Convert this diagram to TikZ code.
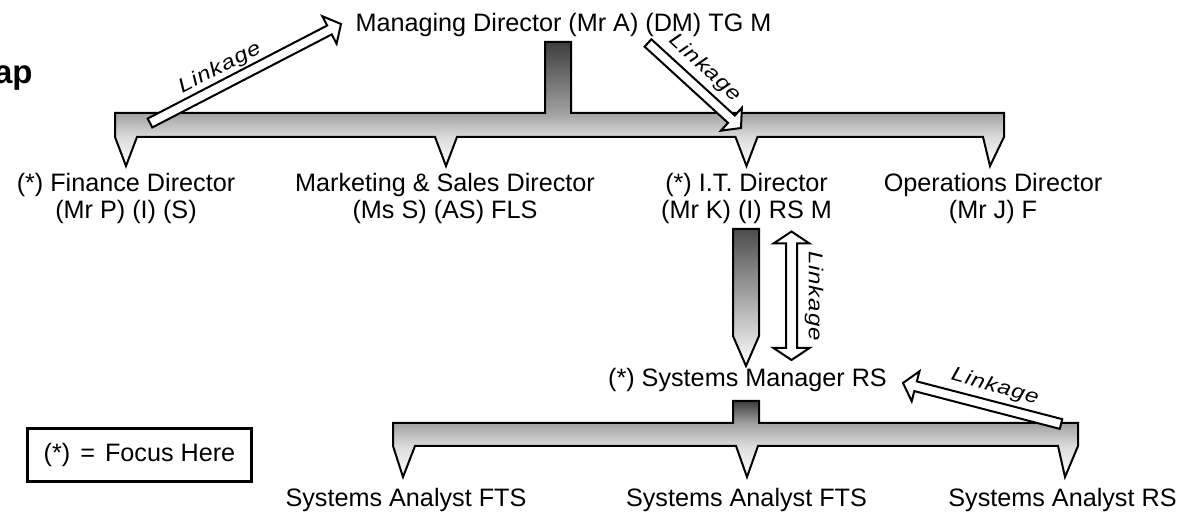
\documentclass[tikz,border=0pt]{standalone}
\usepackage{fontspec}
\setmainfont{Liberation Sans}
\newfontfamily\linkfont[LetterSpace=4]{Liberation Sans}
\usetikzlibrary{calc}

% vertical fills for the two reporting combs (dark stem -> grey bar -> white tips)
\pgfdeclareverticalshading{topcomb}{100bp}{color(0bp)=(white); color(25bp)=(white);
  color(36.7bp)=(black!14); color(46.4bp)=(black!37); color(75bp)=(black!76); color(100bp)=(black!76)}
\pgfdeclareverticalshading{lowcomb}{100bp}{color(0bp)=(white); color(25bp)=(white);
  color(45.4bp)=(black!14); color(60.5bp)=(black!37); color(75bp)=(black!76); color(100bp)=(black!76)}

\tikzset{
  lbl/.style={anchor=base, inner sep=0pt, font=\fontsize{12.6}{13}\selectfont},
  linklbl/.style={inner sep=0pt, font=\linkfont\itshape\fontsize{10}{11}\selectfont},
  comb/.style={draw=black, line width=1pt, line join=miter},
  linkbody/.style={draw=black, fill=white, line width=1pt, line join=miter},
}

% single-headed block arrow from #1 (tail) to #2 (tip)
\newcommand\linkarrow[2]{%
  \coordinate (lkhead) at ($(#2)!6.5pt!(#1)$);
  \draw[linkbody]
    ($(#1)!2.5pt!90:(#2)$) -- ($(lkhead)!2.5pt!90:(#2)$) -- ($(lkhead)!7.75pt!90:(#2)$) -- (#2)
    -- ($(lkhead)!7.75pt!-90:(#2)$) -- ($(lkhead)!2.5pt!-90:(#2)$) -- ($(#1)!2.5pt!-90:(#2)$) -- cycle;}

% double-headed block arrow between #1 and #2
\newcommand\linkarrowboth[2]{%
  \coordinate (lkheadA) at ($(#1)!6pt!(#2)$);
  \coordinate (lkheadB) at ($(#2)!6pt!(#1)$);
  \draw[linkbody] (#1) -- ($(lkheadA)!9pt!90:(#2)$) -- ($(lkheadA)!2.75pt!90:(#2)$)
    -- ($(lkheadB)!2.75pt!-90:(#1)$) -- ($(lkheadB)!9pt!-90:(#1)$) -- (#2)
    -- ($(lkheadB)!9pt!90:(#1)$) -- ($(lkheadB)!2.75pt!90:(#1)$)
    -- ($(lkheadA)!2.75pt!-90:(#2)$) -- ($(lkheadA)!9pt!-90:(#2)$) -- cycle;}

\begin{document}
\begin{tikzpicture}[x=0.5pt, y=-0.5pt]
\useasboundingbox (0,0) rectangle (1184,512);

% heading fragment
\node[anchor=base east, inner sep=0pt, font=\bfseries\fontsize{16.5}{18}\selectfont] (ttl) at (33,84) {ap};

% people
\node[lbl] (md) at (563.5,32) {Managing Director (Mr A) (DM) TG M};
\node[lbl] (fd) at (126,192) {\begin{tabular}[t]{@{}c@{}}(*) Finance Director\\(Mr P) (I) (S)\end{tabular}};
\node[lbl] (msd) at (445,192) {\begin{tabular}[t]{@{}c@{}}Marketing \& Sales Director\\(Ms S) (AS) FLS\end{tabular}};
\node[lbl] (itd) at (746.5,192) {\begin{tabular}[t]{@{}c@{}}(*) I.T. Director\\(Mr K) (I) RS M\end{tabular}};
\node[lbl] (od) at (993,192) {\begin{tabular}[t]{@{}c@{}}Operations Director\\(Mr J) F\end{tabular}};
\node[lbl] (sm) at (747.5,387) {(*) Systems Manager RS};
\node[lbl] (sa1) at (406,507) {Systems Analyst FTS};
\node[lbl] (sa2) at (746.5,507) {Systems Analyst FTS};
\node[lbl] (sa3) at (1062.5,507) {Systems Analyst RS};

% key
\node[draw, line width=1.5pt, minimum width=112pt, minimum height=26.5pt, inner sep=0pt,
      font=\fontsize{12.6}{13}\selectfont] (key) at (139.5,455)
      {(*)\hspace{5pt}=\hspace{5pt}Focus Here};

% board comb: managing director -> four directors
\path[comb, shading=topcomb]
  (545,42) -- (571,42) -- (571,113) -- (1004,113) -- (1004,137) -- (990,166) -- (983,137)
  -- (757.5,137) -- (746.5,166) -- (735.5,137) -- (457,137) -- (446,166) -- (435,137)
  -- (137,137) -- (126,166) -- (115,137) -- (115,113) -- (545,113) -- cycle;

% I.T. director -> systems manager
\path[comb, top color=black!70, bottom color=white]
  (733,229) -- (759,229) -- (759,336) -- (746,366) -- (733,336) -- cycle;

% systems manager -> analysts
\path[comb, shading=lowcomb]
  (733,401) -- (759,401) -- (759,423) -- (1078,423) -- (1078,446) -- (1065,477) -- (1058,446)
  -- (758,446) -- (747,477) -- (736,446) -- (415,446) -- (403,477) -- (393,446)
  -- (393,423) -- (733,423) -- cycle;

% linkage arrows
\coordinate (lkFinTail) at (150,123);
\coordinate (lkFinTip) at (341,24);
\linkarrow{lkFinTail}{lkFinTip}
\node[linklbl, rotate=27.3, xscale=1.2] (lkFinTxt) at (220,68) {Linkage};

\coordinate (lkMdTail) at (648,43);
\coordinate (lkMdTip) at (741,128);
\linkarrow{lkMdTail}{lkMdTip}
\node[linklbl, rotate=-42.4, xscale=1.2] (lkMdTxt) at (705,68) {Linkage};

\coordinate (lkItTop) at (791.5,231.5);
\coordinate (lkItBot) at (791.5,360);
\linkarrowboth{lkItTop}{lkItBot}
\node[linklbl, rotate=-90, xscale=1.2] (lkItTxt) at (814,296) {Linkage};

\coordinate (lkSaTail) at (1061,424);
\coordinate (lkSaTip) at (903,383);
\linkarrow{lkSaTail}{lkSaTip}
\node[linklbl, rotate=-16, xscale=1.2] (lkSaTxt) at (995,387) {Linkage};
\end{tikzpicture}
\end{document}
